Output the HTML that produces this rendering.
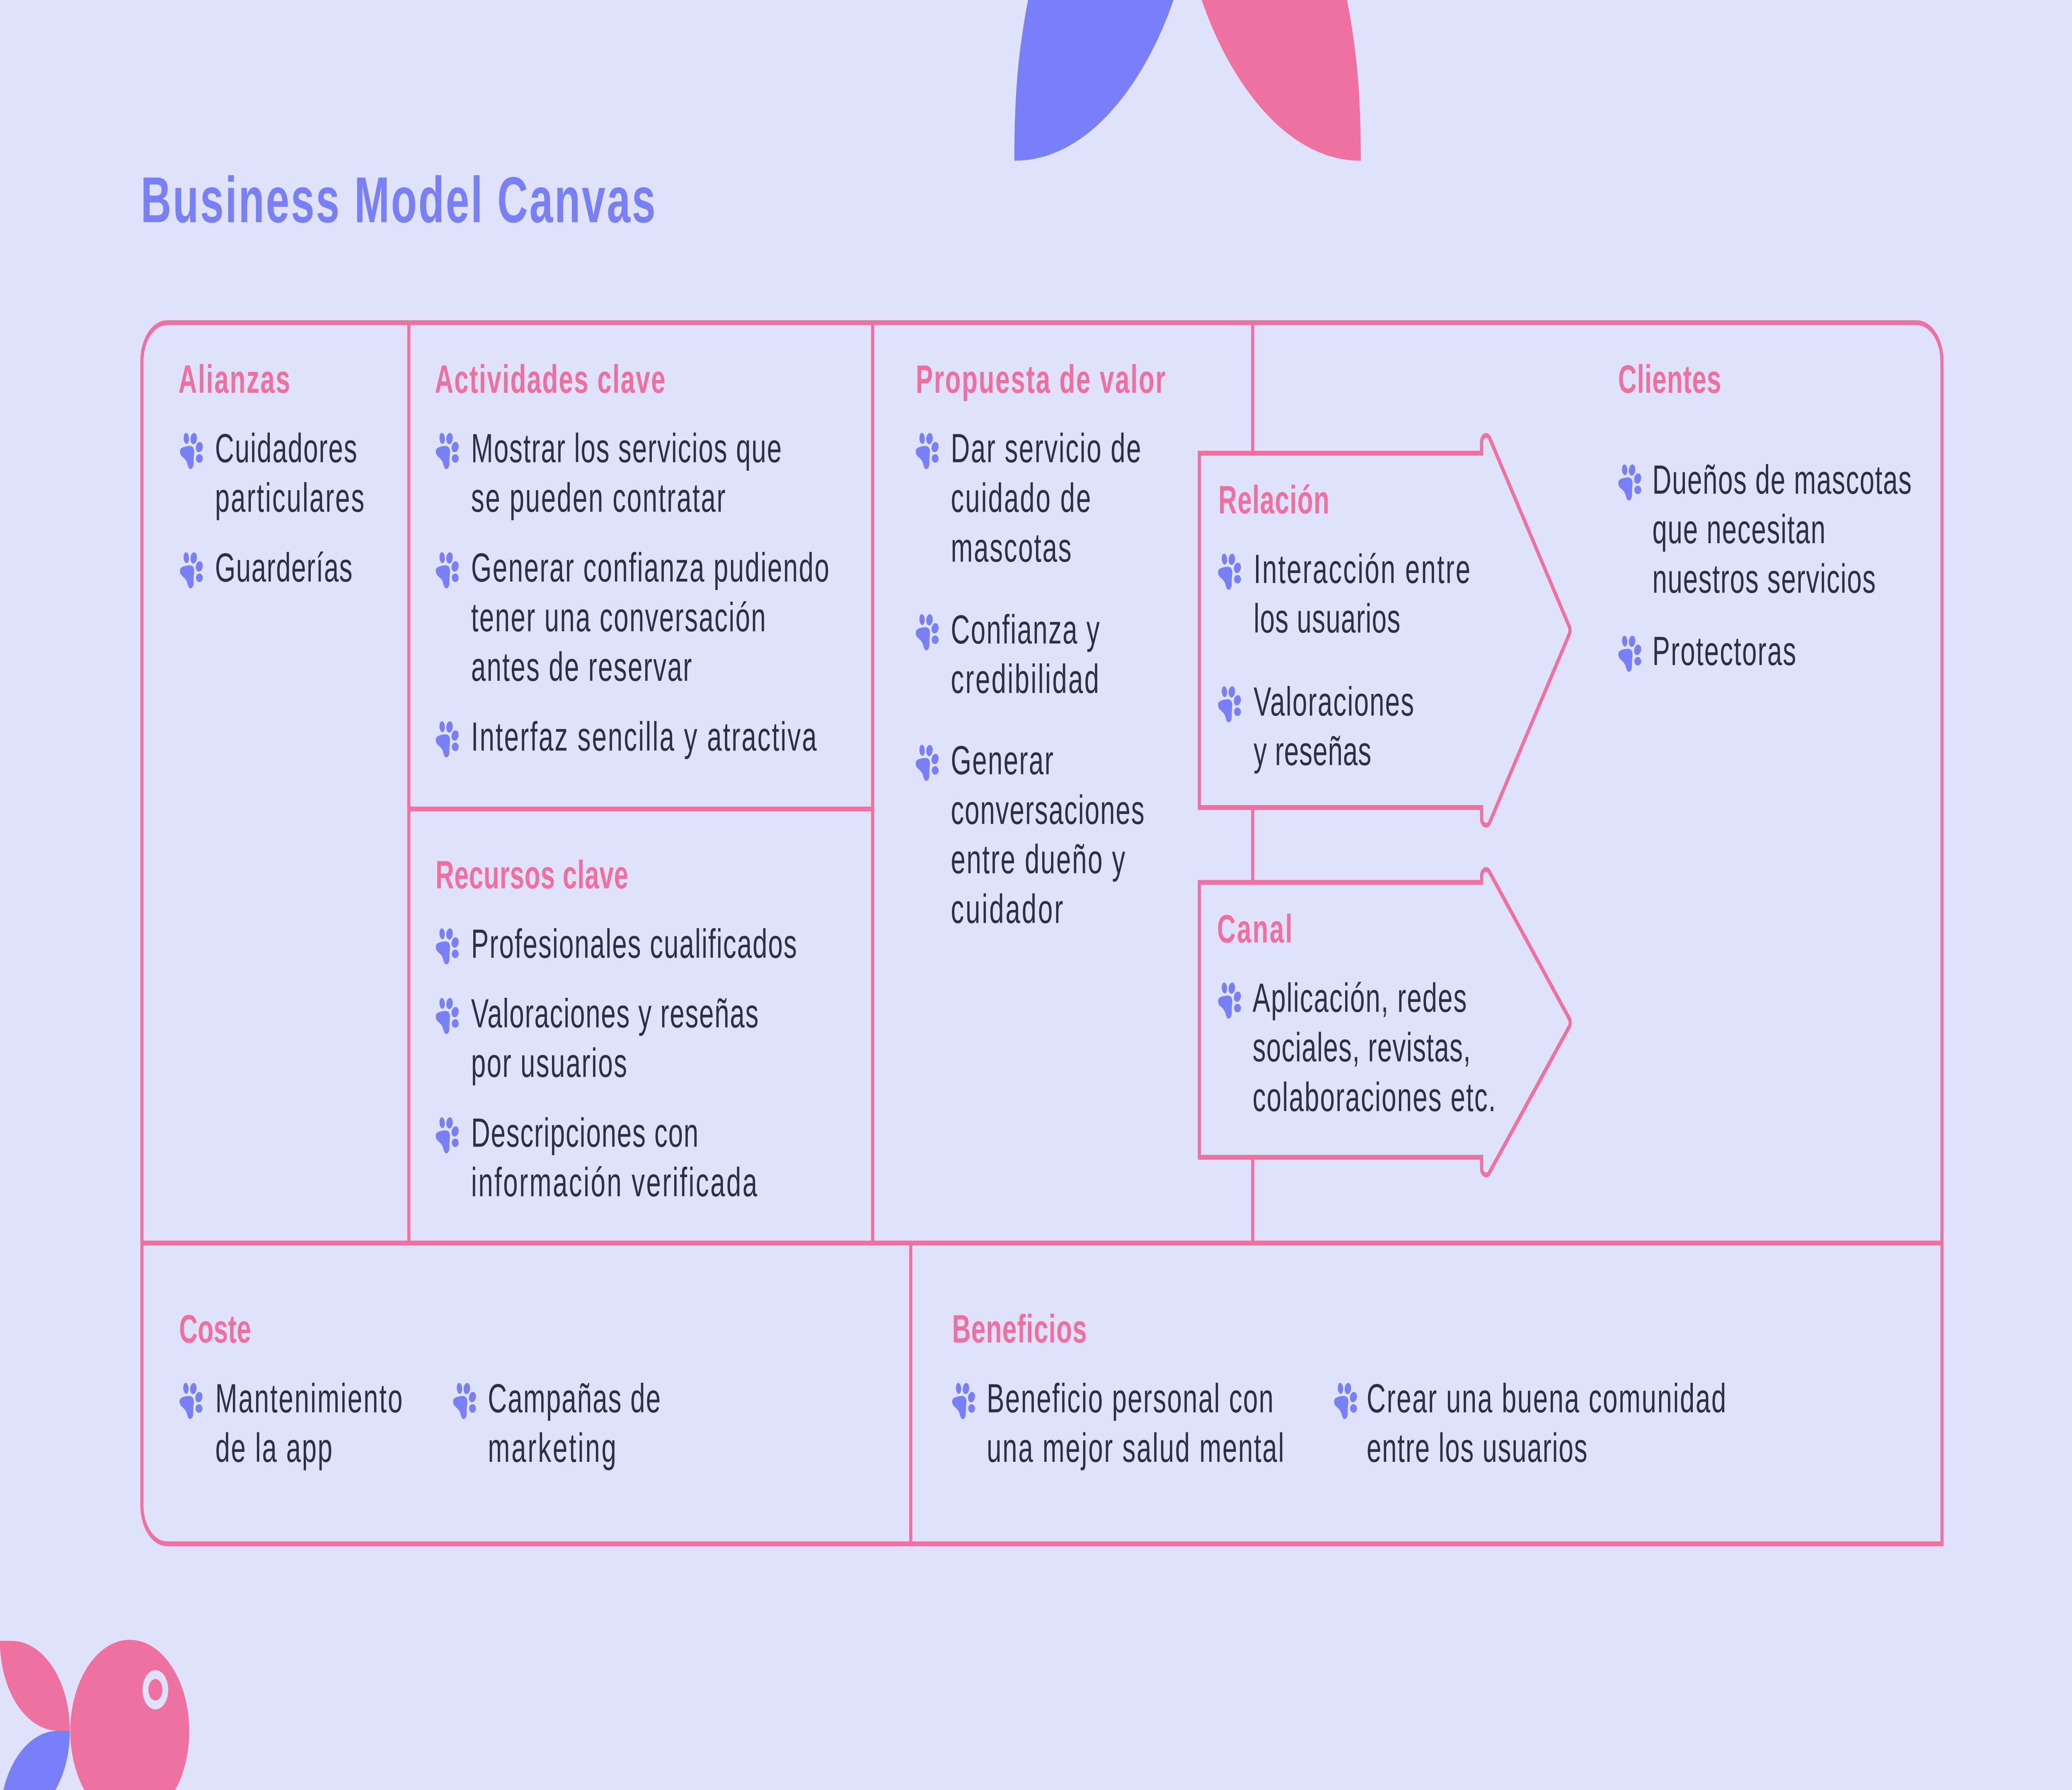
<!DOCTYPE html>
<html>
<head>
<meta charset="utf-8">
<style>
html,body{margin:0;padding:0;width:100%;height:100%;overflow:hidden;background:#E0E2FC;}
svg{position:absolute;left:0;top:0;width:100vw;height:100vh;display:block;}
.h{font-family:"Liberation Sans",sans-serif;font-weight:bold;font-size:19.5px;fill:#EF6F9E;}
.t{font-family:"Liberation Sans",sans-serif;font-size:20px;fill:#2D2F4A;}
.ti{font-family:"Liberation Sans",sans-serif;font-weight:bold;font-size:32px;fill:#7880F8;}
.ln{fill:none;stroke:#EF71A0;stroke-width:2.4;}
</style>
</head>
<body>
<svg viewBox="0 0 1568 882" preserveAspectRatio="none" xmlns="http://www.w3.org/2000/svg">
<defs>
<g id="paw" fill="#7880F8">
<ellipse cx="5.4" cy="3" rx="2" ry="2.7" transform="rotate(-10 5.4 3)"/>
<ellipse cx="11" cy="3.1" rx="2.4" ry="2.8" transform="rotate(20 11 3.1)"/>
<ellipse cx="15.2" cy="7.3" rx="2.8" ry="2.4" transform="rotate(-35 15.2 7.3)"/>
<ellipse cx="15.3" cy="12.9" rx="2.6" ry="2.1"/>
<path d="M0.6,9.4 C0.6,7.6 3.4,7.1 6.8,6.8 C9.6,6.5 11.6,7.4 11.3,10 C11.1,11.8 10.8,13.4 10.9,15 C11,17 9.8,18.1 8.5,18.1 C7.2,18.1 6.7,16.7 6,15.2 C5.2,13.5 3.6,12.8 2.1,11.9 C1,11.2 0.6,10.4 0.6,9.4 Z"/>
</g>
</defs>

<rect x="0" y="0" width="1568" height="882" fill="#E0E2FC"/>

<!-- top decorations -->
<path d="M767.6,79.2 C767.6,44.2 771,24 778,0 L888,0 C869.6,35.6 827.6,79.2 767.6,79.2 Z" fill="#7880F8"/>
<path d="M1029.8,79.2 C1029.8,44.2 1026.4,24 1019.4,0 L909.4,0 C927.8,35.6 969.8,79.2 1029.8,79.2 Z" fill="#EF719F"/>

<!-- bottom-left decorations -->
<path d="M-2,808.5 L8.6,808.5 A44.3,44.3 0 0 1 52.9,852.8 L44,852.8 A44,44 0 0 1 0,808.5 Z" fill="#EF719F"/>
<path d="M-2,897.1 L8.6,897.1 A44.3,44.3 0 0 0 52.9,852.8 L44,852.8 A44,44 0 0 0 0,897.1 Z" fill="#7880F8"/>
<circle cx="98.2" cy="853" r="45" fill="#EF719F"/>
<circle cx="117.6" cy="832.6" r="9.7" fill="#E0E2FC"/>
<circle cx="117.6" cy="832.6" r="5.3" fill="#EF719F"/>

<!-- title -->
<text class="ti" x="106.5" y="109.5" textLength="389.5" lengthAdjust="spacing">Business Model Canvas</text>

<!-- frame -->
<path class="ln" d="M107.4,178 A19,19 0 0 1 126.4,159 H1450.6 A19,19 0 0 1 1469.6,178 V760.7 H126.4 A19,19 0 0 1 107.4,741.7 Z"/>
<path class="ln" d="M309.4,159 V612.5 M660.4,159 V612.5 M948,159 V223.3 M948,397.9 V434.8 M948,570.2 V612.5 M309.4,398.6 H660.4 M107.4,612.5 H1469.6 M689.2,612.5 V760.7"/>

<!-- arrows -->
<path class="ln" d="M907.6,223.3 H1121.2 V218 A3.4,3.4 0 0 1 1127.5,216.2 L1187.6,308.8 A3.4,3.4 0 0 1 1187.6,312.4 L1127.5,405 A3.4,3.4 0 0 1 1121.2,403.2 V397.9 H907.6 Z"/>
<path class="ln" d="M907.6,434.8 H1121.2 V431.5 A3.4,3.4 0 0 1 1127.3,429.8 L1187.8,502.2 A3.4,3.4 0 0 1 1187.8,505.6 L1127.3,577.6 A3.4,3.4 0 0 1 1121.2,575.9 V570.2 H907.6 Z"/>

<!-- headers -->
<text class="h" x="135" y="193.5" textLength="84.5" lengthAdjust="spacing">Alianzas</text>
<text class="h" x="329" y="193.5" textLength="174.5" lengthAdjust="spacing">Actividades clave</text>
<text class="h" x="693" y="193.6" textLength="189" lengthAdjust="spacing">Propuesta de valor</text>
<text class="h" x="1224.5" y="193.6" textLength="78" lengthAdjust="spacing">Clientes</text>
<text class="h" x="329.5" y="437.7" textLength="146" lengthAdjust="spacing">Recursos clave</text>
<text class="h" x="922" y="253" textLength="84" lengthAdjust="spacing">Relación</text>
<text class="h" x="921" y="464.4" textLength="57" lengthAdjust="spacing">Canal</text>
<text class="h" x="135.5" y="661.5" textLength="54.5" lengthAdjust="spacing">Coste</text>
<text class="h" x="720.5" y="661.5" textLength="102" lengthAdjust="spacing">Beneficios</text>

<!-- paws -->
<use href="#paw" x="135.6" y="213"/>
<use href="#paw" x="135.6" y="271.8"/>
<use href="#paw" x="329.2" y="213"/>
<use href="#paw" x="329.2" y="271.8"/>
<use href="#paw" x="329.2" y="355.1"/>
<use href="#paw" x="329.2" y="457.1"/>
<use href="#paw" x="329.2" y="491.4"/>
<use href="#paw" x="329.2" y="550.2"/>
<use href="#paw" x="692.4" y="213"/>
<use href="#paw" x="692.4" y="302.3"/>
<use href="#paw" x="692.4" y="366.7"/>
<use href="#paw" x="921.2" y="272.5"/>
<use href="#paw" x="921.2" y="337.8"/>
<use href="#paw" x="921.2" y="483.8"/>
<use href="#paw" x="1224.1" y="228.5"/>
<use href="#paw" x="1224.1" y="312.9"/>
<use href="#paw" x="135.3" y="681.1"/>
<use href="#paw" x="342.3" y="681.1"/>
<use href="#paw" x="720" y="681.1"/>
<use href="#paw" x="1009" y="681.1"/>

<!-- Alianzas -->
<text class="t" x="162.7" y="227.8" textLength="107.5" lengthAdjust="spacing">Cuidadores</text>
<text class="t" x="162.7" y="252.2" textLength="113" lengthAdjust="spacing">particulares</text>
<text class="t" x="162.7" y="286.6" textLength="104" lengthAdjust="spacing">Guarderías</text>

<!-- Actividades clave -->
<text class="t" x="356.5" y="227.8" textLength="235" lengthAdjust="spacing">Mostrar los servicios que</text>
<text class="t" x="356.5" y="252.2" textLength="192.5" lengthAdjust="spacing">se pueden contratar</text>
<text class="t" x="356.5" y="286.6" textLength="271" lengthAdjust="spacing">Generar confianza pudiendo</text>
<text class="t" x="356.5" y="311" textLength="223" lengthAdjust="spacing">tener una conversación</text>
<text class="t" x="356.5" y="335.4" textLength="167" lengthAdjust="spacing">antes de reservar</text>
<text class="t" x="356.5" y="369.9" textLength="261.5" lengthAdjust="spacing">Interfaz sencilla y atractiva</text>

<!-- Recursos clave -->
<text class="t" x="356.5" y="471.9" textLength="246.5" lengthAdjust="spacing">Profesionales cualificados</text>
<text class="t" x="356.5" y="506.2" textLength="217.5" lengthAdjust="spacing">Valoraciones y reseñas</text>
<text class="t" x="356.5" y="530.6" textLength="118" lengthAdjust="spacing">por usuarios</text>
<text class="t" x="356.5" y="565" textLength="172" lengthAdjust="spacing">Descripciones con</text>
<text class="t" x="356.5" y="589.4" textLength="216.5" lengthAdjust="spacing">información verificada</text>

<!-- Propuesta de valor -->
<text class="t" x="719.5" y="227.8" textLength="144" lengthAdjust="spacing">Dar servicio de</text>
<text class="t" x="719.5" y="252.3" textLength="106" lengthAdjust="spacing">cuidado de</text>
<text class="t" x="719.5" y="276.7" textLength="91.3" lengthAdjust="spacing">mascotas</text>
<text class="t" x="719.5" y="317.1" textLength="112.7" lengthAdjust="spacing">Confianza y</text>
<text class="t" x="719.5" y="341.5" textLength="112.2" lengthAdjust="spacing">credibilidad</text>
<text class="t" x="719.5" y="381.5" textLength="77.6" lengthAdjust="spacing">Generar</text>
<text class="t" x="719.5" y="406" textLength="146.5" lengthAdjust="spacing">conversaciones</text>
<text class="t" x="719.5" y="430.3" textLength="132" lengthAdjust="spacing">entre dueño y</text>
<text class="t" x="719.5" y="454.8" textLength="85" lengthAdjust="spacing">cuidador</text>

<!-- Relación -->
<text class="t" x="948.7" y="287.3" textLength="164" lengthAdjust="spacing">Interacción entre</text>
<text class="t" x="948.7" y="311.7" textLength="111" lengthAdjust="spacing">los usuarios</text>
<text class="t" x="948.7" y="352.6" textLength="121.3" lengthAdjust="spacing">Valoraciones</text>
<text class="t" x="948.7" y="377" textLength="89" lengthAdjust="spacing">y reseñas</text>

<!-- Canal -->
<text class="t" x="947.9" y="498.6" textLength="162" lengthAdjust="spacing">Aplicación, redes</text>
<text class="t" x="947.9" y="523" textLength="165" lengthAdjust="spacing">sociales, revistas,</text>
<text class="t" x="947.9" y="547.5" textLength="184" lengthAdjust="spacing">colaboraciones etc.</text>

<!-- Clientes -->
<text class="t" x="1250.4" y="243.3" textLength="196.2" lengthAdjust="spacing">Dueños de mascotas</text>
<text class="t" x="1250.4" y="267.7" textLength="131" lengthAdjust="spacing">que necesitan</text>
<text class="t" x="1250.4" y="292.1" textLength="169" lengthAdjust="spacing">nuestros servicios</text>
<text class="t" x="1250.4" y="327.7" textLength="108.8" lengthAdjust="spacing">Protectoras</text>

<!-- Coste -->
<text class="t" x="162.9" y="695.9" textLength="141.7" lengthAdjust="spacing">Mantenimiento</text>
<text class="t" x="162.9" y="720.3" textLength="88.6" lengthAdjust="spacing">de la app</text>
<text class="t" x="369.2" y="695.9" textLength="130.7" lengthAdjust="spacing">Campañas de</text>
<text class="t" x="369.2" y="720.3" textLength="97.1" lengthAdjust="spacing">marketing</text>

<!-- Beneficios -->
<text class="t" x="746.7" y="695.9" textLength="217" lengthAdjust="spacing">Beneficio personal con</text>
<text class="t" x="746.7" y="720.3" textLength="225" lengthAdjust="spacing">una mejor salud mental</text>
<text class="t" x="1034.2" y="695.9" textLength="272" lengthAdjust="spacing">Crear una buena comunidad</text>
<text class="t" x="1034.2" y="720.3" textLength="167" lengthAdjust="spacing">entre los usuarios</text>
</svg>
</body>
</html>
